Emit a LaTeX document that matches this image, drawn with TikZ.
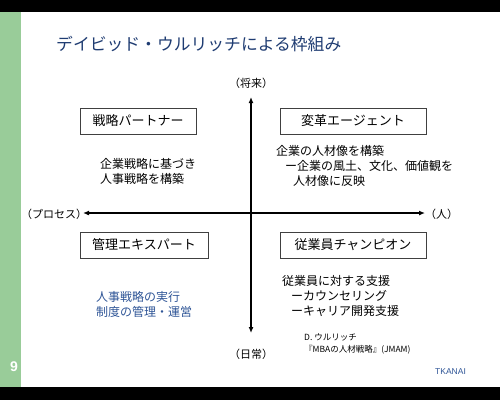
\documentclass[tikz,border=0pt]{standalone}
\usepackage{fontspec}
\setmainfont{Liberation Sans}
\newfontfamily\jp{Noto Sans CJK JP}
\usetikzlibrary{arrows.meta}
\definecolor{sidegreen}{HTML}{99CC99}
\definecolor{titleblue}{HTML}{1F3C72}
\definecolor{textblue}{HTML}{2F5597}
\tikzset{
  rolebox/.style={draw=black!75, line width=0.8pt, minimum height=26pt, inner sep=0pt, font=\jp\fontsize{13}{15}\selectfont},
  body/.style={anchor=west, inner sep=0pt, font=\jp\fontsize{12}{15}\selectfont, align=left},
  axislbl/.style={inner sep=0pt, font=\jp\fontsize{11}{13}\selectfont},
  axis/.style={line width=1.3pt, -{Latex[length=6pt,width=5pt]}}
}
\begin{document}
\begin{tikzpicture}[x=1pt,y=-1pt]
\useasboundingbox (0,0) rectangle (500,400);
\fill[white] (0,0) rectangle (500,400);
\fill[black] (0,0) rectangle (500,12);
\fill[black] (0,387) rectangle (500,400);
\fill[sidegreen] (0,12) rectangle (21,387);
\node[text=white, font=\bfseries\fontsize{14}{16}\selectfont, inner sep=0pt] (pg) at (14,367) {9};
\node[anchor=west, inner sep=0pt, text=titleblue, font=\jp\fontsize{16.8}{19}\selectfont] (title) at (56,44) {デイビッド・ウルリッチによる枠組み};
% axes
\node[axislbl] (fut) at (251,83) {（将来）};
\node[axislbl] (day) at (251,354) {（日常）};
\node[axislbl, anchor=west] (proc) at (21,214) {（プロセス）};
\node[axislbl, anchor=west] (ppl) at (425,214) {（人）};
\coordinate (center) at (251,213);
\coordinate (top) at (251,97);
\coordinate (bot) at (251,333);
\coordinate (left) at (83,213);
\coordinate (right) at (425,213);
\draw[axis] (center) -- (top);
\draw[axis] (center) -- (bot);
\draw[axis] (center) -- (left);
\draw[axis] (center) -- (right);
% boxes
\node[rolebox, minimum width=116pt] (sp) at (138,121) {戦略パートナー};
\node[rolebox, minimum width=146pt] (ca) at (353,121) {変革エージェント};
\node[rolebox, minimum width=128pt] (ae) at (144,245) {管理エキスパート};
\node[rolebox, minimum width=146pt] (ec) at (353,245) {従業員チャンピオン};
% texts
\node[body] (t1) at (100,171) {企業戦略に基づき\\人事戦略を構築};
\node[body, anchor=north west] (t2) at (276,145) {企業の人材像を構築\\\hspace*{9pt}ー企業の風土、文化、価値観を\\\hspace*{17pt}人材像に反映};
\node[body, text=textblue] (t3) at (96,304) {人事戦略の実行\\制度の管理・運営};
\node[body, anchor=north west] (t4) at (282,275) {従業員に対する支援\\\hspace*{9pt}ーカウンセリング\\\hspace*{9pt}ーキャリア開発支援};
\node[anchor=north west, inner sep=0pt, align=left, font=\jp\fontsize{8.5}{12.5}\selectfont] (ref) at (304,333) {D. ウルリッチ\\『MBAの人材戦略』(JMAM)};
\node[anchor=west, inner sep=0pt, text=textblue, font=\fontsize{8.5}{10}\selectfont] (tk) at (435,372) {TKANAI};
\end{tikzpicture}
\end{document}
